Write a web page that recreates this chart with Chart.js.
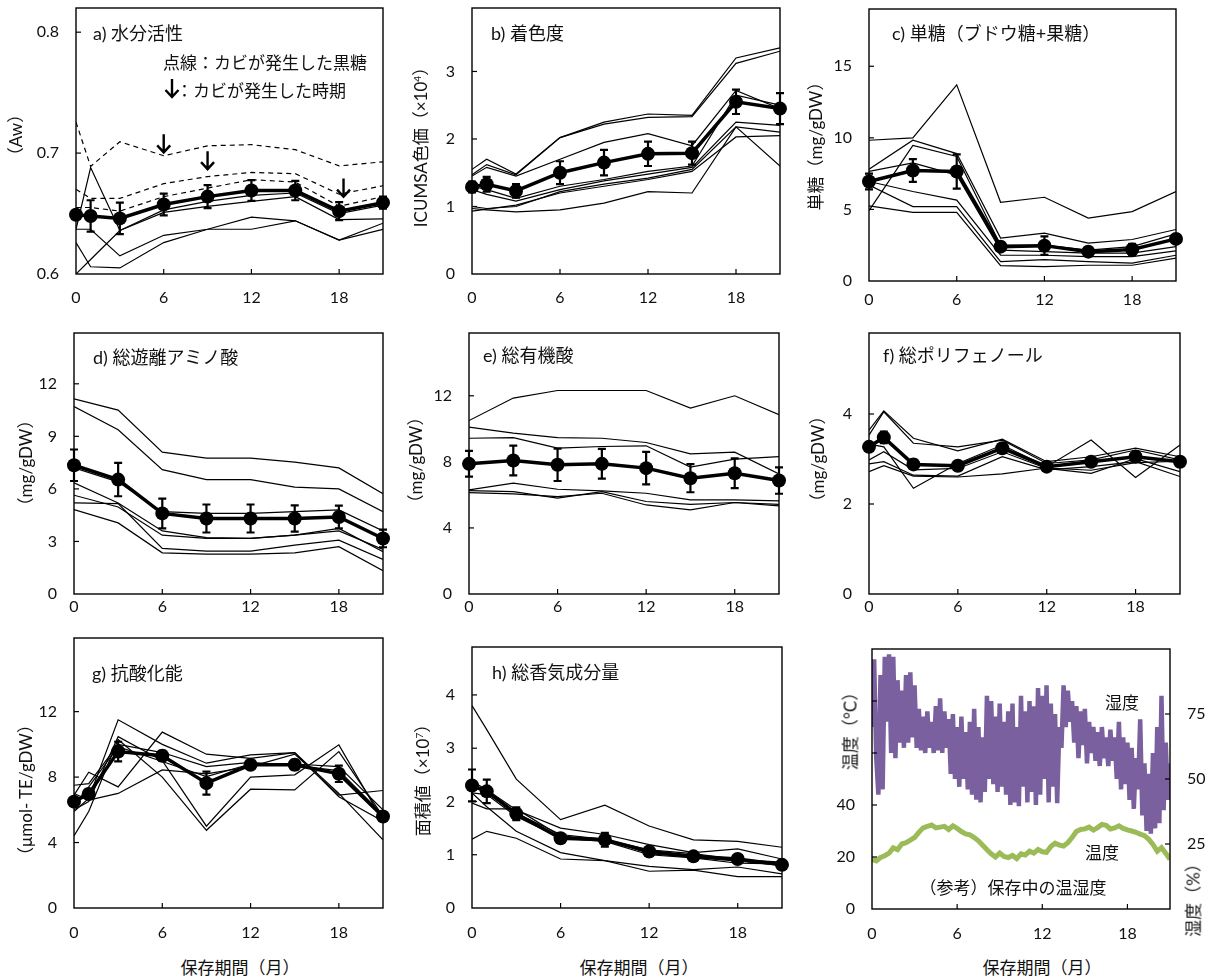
<!DOCTYPE html>
<html>
<head>
<meta charset="utf-8">
<script src="https://cdn.jsdelivr.net/npm/chart.js@4"></script>
<style>
  body { margin: 0; background: #fff; width: 1213px; height: 980px; position: relative; overflow: hidden;
         font-family: "Lato", "Noto Sans CJK JP", sans-serif; color: #111; }
  .pane { position: absolute; }
  .ttl { position: absolute; white-space: nowrap; font-size: 18px; line-height: 1; transform: translate(0, -50%); }
  .leg { position: absolute; white-space: nowrap; font-size: 17px; line-height: 1; transform: translate(0, -50%); }
  .mid { position: absolute; white-space: nowrap; font-size: 17px; line-height: 1; transform: translate(-50%, -50%); }
  .vt { position: absolute; white-space: nowrap; font-size: 17px; line-height: 1; transform: translate(-50%, -50%) rotate(-90deg); }
  sup { font-size: 10px; vertical-align: 6px; }
</style>
</head>
<body>
<script>
// 保存期間（月）
const months = [0, 1, 3, 6, 9, 12, 15, 18, 21];
const months8 = [0, 3, 6, 9, 12, 15, 18, 21];

// a) 水分活性
const awMean = [0.649, 0.648, 0.646, 0.6575, 0.664, 0.669, 0.669, 0.652, 0.659];
const awErr = [0.003, 0.013, 0.013, 0.009, 0.0095, 0.0086, 0.008, 0.0075, 0.005];
const awMold = [
  [0.7256, 0.689, 0.7094, 0.6978, 0.706, 0.707, 0.7028, 0.6894, 0.6928],
  [0.670, 0.6625, 0.6625, 0.6747, 0.6806, 0.684, 0.683, 0.666, 0.673],
  [0.655, 0.655, 0.652, 0.664, 0.671, 0.678, 0.676, 0.656, 0.664]
];
const awOther = [
  [0.600, 0.612, 0.636, 0.651, 0.656, 0.660, 0.664, 0.645, 0.6456],
  [0.637, 0.637, 0.615, 0.632, 0.637, 0.647, 0.644, 0.628, 0.642],
  [0.626, 0.606, 0.605, 0.626, 0.637, 0.637, 0.644, 0.628, 0.637],
  [0.637, 0.688, 0.636, 0.653, 0.660, 0.665, 0.667, 0.650, 0.657]
];
const moldMonths = [6, 9, 18.3];   // カビが発生した時期
const moldTips = [0.7006, 0.6867, 0.664];

// b) 着色度
const colMean = [1.29, 1.33, 1.23, 1.50, 1.65, 1.78, 1.79, 2.55, 2.45];
const colErr = [0.08, 0.11, 0.1, 0.17, 0.19, 0.18, 0.17, 0.18, 0.23];
const colLots = [
  [1.55, 1.70, 1.48, 2.02, 2.25, 2.37, 2.35, 3.20, 3.35],
  [1.47, 1.62, 1.47, 2.02, 2.22, 2.32, 2.33, 3.12, 3.30],
  [1.45, 1.58, 1.45, 1.70, 1.95, 2.08, 1.90, 2.72, 2.45],
  [1.30, 1.25, 1.12, 1.30, 1.40, 1.52, 1.60, 2.65, 2.50],
  [1.25, 1.18, 1.08, 1.25, 1.38, 1.48, 1.58, 2.25, 2.20],
  [1.00, 0.97, 1.00, 1.22, 1.33, 1.42, 1.55, 2.18, 2.10],
  [0.97, 0.95, 0.92, 0.95, 1.05, 1.22, 1.20, 2.18, 1.60],
  [0.93, 0.96, 1.02, 1.20, 1.30, 1.40, 1.52, 2.03, 2.05]
];

// c) 単糖
const sugMean = [6.95, 7.72, 7.65, 2.4, 2.47, 2.05, 2.2, 2.94];
const sugErr = [0.55, 0.8, 1.2, 0.3, 0.65, 0.3, 0.4, 0.25];
const sugLots = [
  [9.83, 10.0, 13.7, 5.5, 5.85, 4.4, 4.85, 6.25],
  [7.8, 9.83, 8.9, 3.0, 3.35, 2.65, 2.9, 3.6],
  [4.92, 9.47, 8.7, 2.5, 2.5, 2.15, 2.4, 3.3],
  [7.65, 8.25, 7.4, 2.15, 2.05, 1.95, 1.95, 2.4],
  [6.95, 6.25, 5.65, 1.8, 1.8, 1.7, 1.7, 2.1],
  [6.7, 5.2, 5.2, 1.35, 1.5, 1.35, 1.25, 1.8],
  [5.25, 4.8, 4.8, 1.07, 1.0, 1.1, 1.1, 1.6]
];

// d) 総遊離アミノ酸
const amiMean = [7.35, 6.53, 4.6, 4.31, 4.31, 4.31, 4.4, 3.17];
const amiErr = [0.9, 0.95, 0.85, 0.8, 0.8, 0.75, 0.65, 0.5];
const amiLots = [
  [11.14, 10.5, 8.1, 7.76, 7.76, 7.53, 7.2, 5.73],
  [10.7, 9.38, 7.1, 6.53, 6.53, 6.1, 6.0, 4.7],
  [7.2, 6.4, 4.7, 4.6, 4.6, 4.7, 4.8, 3.6],
  [6.35, 5.2, 3.6, 3.22, 3.17, 3.36, 3.6, 2.54],
  [5.64, 4.97, 3.36, 3.17, 3.17, 3.36, 3.74, 2.41],
  [5.2, 5.16, 2.6, 2.45, 2.45, 2.79, 3.07, 1.97],
  [4.82, 4.06, 2.35, 2.28, 2.28, 2.35, 2.7, 1.33]
];

// e) 総有機酸
const orgMean = [7.88, 8.08, 7.82, 7.88, 7.62, 7.01, 7.31, 6.87];
const orgErr = [0.78, 0.9, 0.98, 0.9, 0.98, 0.85, 0.9, 0.8];
const orgLots = [
  [10.5, 11.86, 12.32, 12.32, 12.32, 11.25, 12.0, 10.85],
  [10.1, 9.74, 9.47, 9.43, 9.17, 8.48, 8.59, 7.27],
  [9.43, 9.47, 8.83, 8.93, 8.97, 7.68, 8.16, 8.32],
  [6.3, 6.71, 6.34, 6.24, 6.1, 5.7, 5.7, 5.64],
  [6.26, 6.2, 5.8, 6.2, 5.6, 5.43, 5.54, 5.43],
  [6.14, 6.06, 5.9, 6.1, 5.39, 5.09, 5.54, 5.33]
];

// f) 総ポリフェノール
const polMean = [3.27, 3.48, 2.88, 2.85, 3.24, 2.83, 2.94, 3.05, 2.94];
const polErr = [0.05, 0.13, 0.1, 0.05, 0.05, 0.04, 0.05, 0.05, 0.05];
const polLots = [
  [3.64, 4.07, 3.46, 3.18, 3.44, 2.94, 3.05, 3.24, 3.05],
  [3.53, 4.05, 3.35, 3.27, 3.42, 2.9, 2.98, 3.2, 2.98],
  [3.33, 3.27, 2.35, 2.9, 3.31, 2.83, 3.42, 2.59, 3.31],
  [2.98, 3.16, 2.76, 2.79, 3.16, 2.79, 2.68, 3.01, 2.72],
  [2.89, 2.94, 2.64, 2.62, 3.05, 2.76, 2.83, 2.94, 2.61],
  [2.72, 2.85, 2.62, 2.6, 2.67, 2.8, 2.75, 2.92, 2.95]
];

// g) 抗酸化能
const antMean = [6.5, 6.97, 9.56, 9.3, 7.63, 8.75, 8.75, 8.2, 5.59];
const antErr = [0.2, 0.3, 0.6, 0.3, 0.7, 0.2, 0.3, 0.5, 0.2];
const antLots = [
  [6.9, 8.3, 7.4, 10.75, 9.4, 9.15, 9.5, 6.8, 5.3],
  [5.9, 6.7, 11.5, 10.0, 8.85, 9.36, 9.5, 7.0, 4.17],
  [6.0, 6.5, 10.47, 9.0, 5.0, 8.0, 8.14, 9.97, 5.3],
  [4.4, 5.9, 10.3, 8.0, 4.75, 7.26, 7.22, 9.56, 5.6],
  [7.0, 6.6, 7.0, 8.44, 8.2, 8.64, 9.4, 6.9, 7.18],
  [6.3, 7.4, 9.86, 8.95, 8.03, 8.8, 8.8, 8.64, 6.0],
  [7.5, 7.6, 10.0, 9.5, 8.64, 8.9, 8.7, 8.4, 5.7]
];

// h) 総香気成分量
const aroMean = [2.3, 2.19, 1.77, 1.31, 1.28, 1.06, 0.97, 0.92, 0.81];
const aroErr = [0.3, 0.22, 0.12, 0.08, 0.13, 0.07, 0.05, 0.04, 0.03];
const aroLots = [
  [3.8, 3.35, 2.42, 1.66, 1.93, 1.54, 1.28, 1.25, 1.14],
  [2.38, 2.22, 1.84, 1.5, 1.38, 1.19, 1.04, 1.11, 0.92],
  [2.28, 2.16, 1.78, 1.38, 1.29, 1.09, 1.02, 0.91, 0.86],
  [2.16, 2.13, 1.72, 1.31, 1.25, 1.0, 0.94, 0.84, 0.83],
  [1.97, 1.86, 1.86, 1.35, 1.3, 1.02, 0.95, 0.88, 0.8],
  [2.16, 1.9, 1.44, 1.04, 0.89, 0.78, 0.72, 0.77, 0.64],
  [1.29, 1.44, 1.31, 0.92, 0.89, 0.69, 0.71, 0.59, 0.59]
];

// (参考) 保存中の温湿度 — 湿度(%) は 0〜21 か月を等間隔に読み取り
const humidity = [
  70, 96, 58, 44, 90, 46, 97, 72, 98, 60,
  97, 58, 88, 64, 84, 62, 90, 64, 91, 66,
  86, 62, 77, 61, 74, 60, 76, 62, 72, 60,
  78, 61, 81, 60, 76, 62, 73, 52, 75, 50,
  70, 47, 74, 50, 68, 46, 72, 44, 77, 42,
  70, 41, 66, 45, 82, 50, 80, 48, 74, 45,
  79, 47, 72, 44, 76, 40, 79, 41, 70, 39.5,
  82, 47, 76, 41, 80, 45, 78, 40, 85, 44,
  82, 50, 86, 41, 79, 47, 75, 40.7, 70, 62,
  86, 70, 84, 72, 80, 64, 78, 58, 76, 63,
  77, 56, 72, 60, 70, 57, 68, 55, 70, 58,
  66, 55, 69, 57, 66, 50, 72, 46, 66, 48,
  64, 42, 62, 38.5, 58, 46, 73, 36, 56, 30,
  52, 29, 60, 31, 70, 33, 82, 38, 64, 42,
  56
];
// 温度(°C)
const temperature = [
  19.1, 18.5, 19.8, 20.5, 21.5, 23.5, 22.8, 25.0, 25.5, 26.5,
  27.5, 29.5, 31.2, 31.8, 32.3, 31.2, 31.5, 31.8, 30.6, 32.0,
  31.0, 29.8, 28.9, 28.5, 27.5, 26.2, 24.5, 22.8, 21.2, 20.0,
  21.5, 20.2, 19.8, 20.6, 19.4, 21.2, 20.8, 22.2, 21.5, 22.9,
  22.0, 21.8, 24.0, 25.3, 24.6, 24.2, 25.5, 27.5, 29.8, 30.6,
  30.8, 31.5, 30.4, 31.3, 32.5, 32.2, 30.8, 31.2, 32.0, 31.0,
  30.4, 30.0, 29.5, 28.8, 28.2, 26.8, 24.8, 22.2, 23.6, 21.4,
  19.1
];

const PAD_L = 70, PAD_R = 15, PAD_T = 36, PAD_B = 45;
const TICK_FONT = { family: "Lato", size: 16 };
const TICK_LH = 16 * 1.2;

const pts = (xs, ys) => ys.map((y, i) => ({ x: xs[i], y: y }));
const spread = (ys) => ys.map((y, i) => ({ x: i * 21 / (ys.length - 1), y: y }));

function thin(xs, ys, dashed) {
  return { data: pts(xs, ys), borderColor: "#000", borderWidth: 1.2, pointRadius: 0,
           borderDash: dashed ? [5, 4] : [], tension: 0 };
}
function mean(xs, ys, errs) {
  return { data: pts(xs, ys), errs: errs, borderColor: "#000", borderWidth: 3.5, pointRadius: 7,
           pointBackgroundColor: "#000", pointBorderWidth: 0, clip: false, tension: 0 };
}

// 誤差棒
Chart.register({
  id: "errBars",
  afterDatasetsDraw(chart) {
    const ctx = chart.ctx;
    chart.data.datasets.forEach((ds) => {
      if (!ds.errs) return;
      const xs = chart.scales.x, ys = chart.scales.y;
      ctx.save();
      ctx.strokeStyle = "#000";
      ctx.lineWidth = 2.2;
      ds.data.forEach((p, i) => {
        const px = xs.getPixelForValue(p.x);
        const y1 = ys.getPixelForValue(p.y + ds.errs[i]);
        const y2 = ys.getPixelForValue(p.y - ds.errs[i]);
        ctx.beginPath();
        ctx.moveTo(px, y1); ctx.lineTo(px, y2);
        ctx.moveTo(px - 4, y1); ctx.lineTo(px + 4, y1);
        ctx.moveTo(px - 4, y2); ctx.lineTo(px + 4, y2);
        ctx.stroke();
      });
      ctx.restore();
    });
  }
});

// 枠線と内向きの目盛り
Chart.register({
  id: "frame",
  afterDraw(chart) {
    const ctx = chart.ctx, a = chart.chartArea;
    ctx.save();
    ctx.strokeStyle = "#000";
    ctx.lineWidth = 1.4;
    ctx.strokeRect(a.left, a.top, a.right - a.left, a.bottom - a.top);
    ctx.lineWidth = 1.2;
    Object.values(chart.scales).forEach((s) => {
      s.ticks.forEach((t) => {
        const p = s.getPixelForValue(t.value);
        ctx.beginPath();
        if (s.axis === "x") {
          if (p <= a.left + 1 || p >= a.right - 1) return;
          ctx.moveTo(p, a.bottom); ctx.lineTo(p, a.bottom - 5);
        } else {
          if (p >= a.bottom - 1 || p <= a.top + 1) return;
          if (s.position === "right") { ctx.moveTo(a.right, p); ctx.lineTo(a.right - 5, p); }
          else { ctx.moveTo(a.left, p); ctx.lineTo(a.left + 5, p); }
        }
        ctx.stroke();
      });
    });
    ctx.restore();
  }
});

// カビ発生時期の矢印
const moldArrows = {
  id: "moldArrows",
  afterDatasetsDraw(chart) {
    const ctx = chart.ctx, xs = chart.scales.x, ys = chart.scales.y;
    ctx.save();
    ctx.strokeStyle = "#000";
    ctx.lineWidth = 2.4;
    const arrow = (px, tip) => {
      ctx.beginPath();
      ctx.moveTo(px, tip - 18); ctx.lineTo(px, tip);
      ctx.moveTo(px - 6.5, tip - 7); ctx.lineTo(px, tip); ctx.lineTo(px + 6.5, tip - 7);
      ctx.stroke();
    };
    moldMonths.forEach((m, i) => arrow(xs.getPixelForValue(m), ys.getPixelForValue(moldTips[i])));
    arrow(chart.chartArea.left + 96, chart.chartArea.top + 89);
    ctx.restore();
  }
};

function panel(g, datasets, y, y2, plugins) {
  const padR = y2 ? 55 : PAD_R;
  const w = g.R - g.L + PAD_L + padR, h = g.B - g.T + PAD_T + PAD_B;
  const wrap = document.createElement("div");
  wrap.className = "pane";
  wrap.style.left = (g.L - PAD_L) + "px";
  wrap.style.top = (g.T - PAD_T) + "px";
  wrap.style.width = w + "px";
  wrap.style.height = h + "px";
  const cv = document.createElement("canvas");
  cv.width = w; cv.height = h;
  wrap.appendChild(cv);
  document.body.appendChild(wrap);

  const yScale = (o, pos, width) => ({
    type: "linear", position: pos, min: o.min, max: o.max,
    grid: { display: false, drawTicks: false }, border: { display: false },
    ticks: { stepSize: o.step, includeBounds: false, padding: 17, color: "#111", font: TICK_FONT,
             callback: o.fmt },
    afterBuildTicks: (s) => { if (o.last !== undefined) s.ticks = s.ticks.filter((t) => t.value <= o.last); },
    afterFit: (s) => { s.width = width; }
  });
  const scales = {
    x: {
      type: "linear", min: 0, max: 21,
      grid: { display: false, drawTicks: false }, border: { display: false },
      ticks: { stepSize: 6, includeBounds: false, padding: g.xl - g.B - TICK_LH / 2, color: "#111", font: TICK_FONT },
      afterFit: (s) => { s.height = PAD_B; }
    },
    y: yScale(y, "left", PAD_L)
  };
  if (y2) scales.y2 = yScale(y2, "right", padR);

  new Chart(cv, {
    type: "line",
    data: { datasets: datasets },
    options: {
      responsive: false, animation: false, events: [],
      layout: { padding: { left: 0, top: PAD_T, right: y2 ? 0 : PAD_R, bottom: 0 } },
      plugins: { legend: { display: false }, tooltip: { enabled: false } },
      scales: scales
    },
    plugins: plugins || []
  });
}

const intFmt = (v) => String(Math.round(v * 100) / 100);

// a
panel({ L: 76, R: 383, T: 8, B: 274, xl: 298 },
  [mean(months, awMean, awErr)]
    .concat(awMold.map((s) => thin(months, s, true)))
    .concat(awOther.map((s) => thin(months, s))),
  { min: 0.6, max: 0.82, step: 0.1, fmt: (v) => v.toFixed(1) }, null, [moldArrows]);

// b
panel({ L: 472, R: 780, T: 8, B: 274, xl: 298 },
  [mean(months, colMean, colErr)].concat(colLots.map((s) => thin(months, s))),
  { min: 0, max: 3.94, step: 1, fmt: intFmt });

// c
panel({ L: 869, R: 1176, T: 9, B: 281, xl: 300 },
  [mean(months8, sugMean, sugErr)].concat(sugLots.map((s) => thin(months8, s))),
  { min: 0, max: 19, step: 5, fmt: intFmt });

// d
panel({ L: 74, R: 383, T: 333, B: 594, xl: 607 },
  [mean(months8, amiMean, amiErr)].concat(amiLots.map((s) => thin(months8, s))),
  { min: 0, max: 14.9, step: 3, fmt: intFmt });

// e
panel({ L: 469, R: 779, T: 333, B: 594, xl: 607 },
  [mean(months8, orgMean, orgErr)].concat(orgLots.map((s) => thin(months8, s))),
  { min: 0, max: 15.8, step: 4, fmt: intFmt });

// f
panel({ L: 869, R: 1180, T: 333, B: 594, xl: 607 },
  [mean(months, polMean, polErr)].concat(polLots.map((s) => thin(months, s))),
  { min: 0, max: 5.8, step: 2, fmt: intFmt });

// g
panel({ L: 74, R: 383, T: 638, B: 908, xl: 933 },
  [mean(months, antMean, antErr)].concat(antLots.map((s) => thin(months, s))),
  { min: 0, max: 16.5, step: 4, last: 12, fmt: intFmt });

// h
panel({ L: 472, R: 782, T: 647, B: 908, xl: 933 },
  [mean(months, aroMean, aroErr)].concat(aroLots.map((s) => thin(months, s))),
  { min: 0, max: 4.9, step: 1, fmt: intFmt });

// i 温湿度
panel({ L: 872, R: 1170, T: 649, B: 909, xl: 934 },
  [
    { data: spread(temperature), yAxisID: "y", borderColor: "#9bbb59", borderWidth: 5, pointRadius: 0, tension: 0 },
    { data: spread(humidity), yAxisID: "y2", borderColor: "#7b60a0", borderWidth: 4.5, pointRadius: 0,
      tension: 0, borderJoinStyle: "bevel" }
  ],
  { min: 0, max: 100, step: 20, last: 80, fmt: (v) => (v <= 40 ? String(v) : "") },
  { min: 0, max: 100, step: 25, fmt: (v) => (v > 0 && v < 100 ? String(v) : "") });

// テキスト
const texts = [
  ["ttl", 93, 33, "a) 水分活性"],
  ["leg", 163, 62, "点線：カビが発生した黒糖"],
  ["leg", 176, 90, "：カビが発生した時期"],
  ["ttl", 491, 33, "b) 着色度"],
  ["ttl", 892, 33, "c) 単糖（ブドウ糖+果糖）"],
  ["ttl", 93, 357, "d) 総遊離アミノ酸"],
  ["ttl", 483, 355, "e) 総有機酸"],
  ["ttl", 883, 355, "f) 総ポリフェノール"],
  ["ttl", 92, 673, "g) 抗酸化能"],
  ["ttl", 492, 672, "h) 総香気成分量"],
  ["vt", 15, 135, "（Aw）"],
  ["vt", 420, 143, "ICUMSA色価（×10<sup>4</sup>）"],
  ["vt", 815, 142, "単糖（mg/gDW）"],
  ["vt", 25, 463, "（mg/gDW）"],
  ["vt", 415, 460, "（mg/gDW）"],
  ["vt", 817, 459, "（mg/gDW）"],
  ["vt", 25, 790, "（μmol- TE/gDW）"],
  ["vt", 422, 776, "面積値（×10<sup>7</sup>）"],
  ["vt", 850, 727, "温度（°C）"],
  ["vt", 1193, 896, "湿度（%）"],
  ["mid", 240, 967, "保存期間（月）"],
  ["mid", 639, 967, "保存期間（月）"],
  ["mid", 1042, 967, "保存期間（月）"],
  ["mid", 1122, 702, "湿度"],
  ["mid", 1102, 852, "温度"],
  ["mid", 1013, 887, "（参考）保存中の温湿度"]
];
texts.forEach(([cls, x, y, html]) => {
  const d = document.createElement("div");
  d.className = cls;
  d.style.left = x + "px";
  d.style.top = y + "px";
  d.innerHTML = html;
  document.body.appendChild(d);
});
</script>
</body>
</html>
